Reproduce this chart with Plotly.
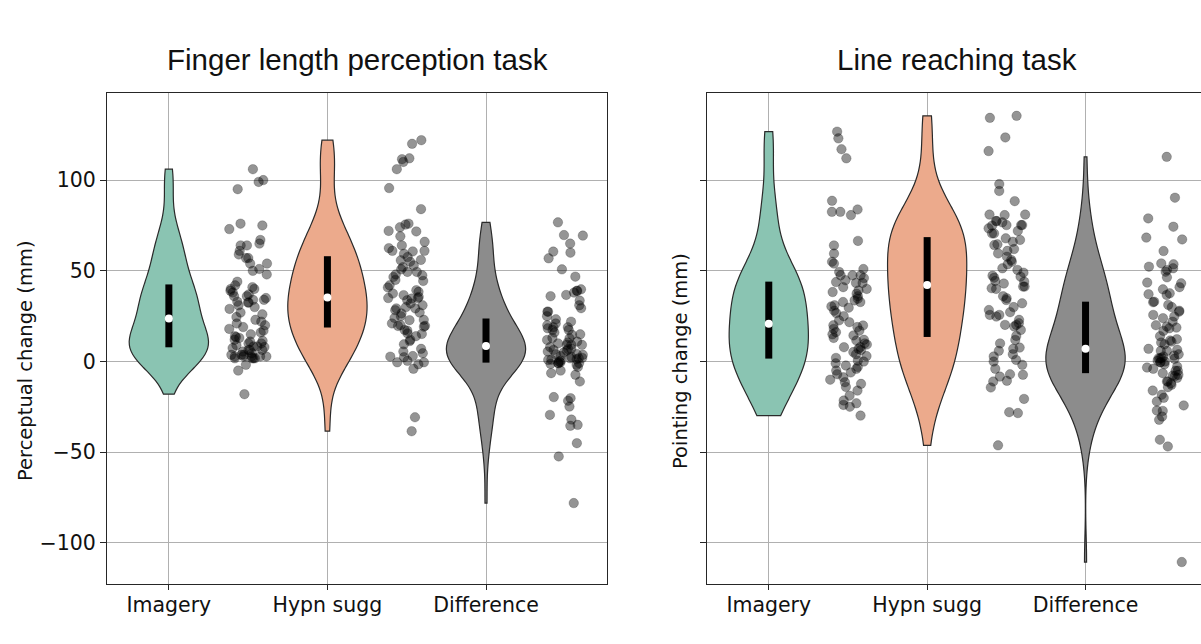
import numpy as np
import plotly.graph_objects as go

categories = ["Imagery", "Hypn sugg", "Difference"]
titles = ["Finger length perception task", "Line reaching task"]
ylabels = ["Perceptual change (mm)", "Pointing change (mm)"]
ytick_vals = [100, 50, 0, -50, -100]
ytick_text = ["100", "50", "0", "\u221250", "\u2212100"]

# ---- Finger length perception task ----
finger_imagery = [106, 100, 99, 95, 76, 75, 73, 67, 65, 64, 64, 61, 59, 57, 57, 54, 54, 51, 50, 48,
                  44, 42, 41, 40, 39, 37, 36, 34, 34, 32.5, 32.5, 31, 29, 24.5, 23, 21, 19, 18, 16, 14,
                  13, 11.4, 10, 10, 8.3, 8.3, 7.4, 6.4, 6.4, 6.4, 5.5, 4.6, 3.7, 3.7, 3.7, 2.8, 2.8, 2.8,
                  2.8, 2.8, 1.8, 1.8, 1.8, 1.8, -1.8, -5, -18,
                  38, 35, 33, 30, 27, 26, 40, 36, 22, 20, 17, 15, 12, 9, 8, 11, 13.5]
finger_hypn = [122, 120, 112, 111.5, 110, 106, 95.6, 84, 75.5, 76, 74, 71.7, 72, 64, 62.5, 61, 61, 60.7,
               59.4, 57.6, 56, 55.8, 55, 53, 50.8, 49.4, 49.4, 47.5, 46.6, 44.4, 40.8, 39.3, 38.4, 37.5,
               36.6, 35.6, 35, 34.7, 35, 33.8, 29.3, 29.3, 28.3, 26.5, 24, 25, 23, 22.8, 20, 19.6, 19.2,
               17.4, 19.7, 17, 15.5, 15.2, 14, 11.3, 9.5, 7, 5.5, 4.6, 2.7, 2.4, 0.4, -0.4, -0.4, -1.5,
               -4, -30.7, -38.4,
               66, 69, 52, 45, 42, 48, 31, 27, 21, 32, 30, 12, 3]
finger_diff = [76.7, 69.4, 69.7, 65, 60, 60.6, 56.9, 50.8, 46.8, 38.9, 38, 36, 39.8, 39, 33.6, 36.7, 29.4,
               27.5, 27.5, 25, 23.3, 21, 18.9, 18.9, 18.3, 17.4, 17.4, 14.7, 11.9, 10, 9.2, 9.2, 11, 9.2,
               12.8, 6.4, 6.8, 5.5, 4.2, 3.7, 1.8, 0.9, 0, -0.9, -1.3, 1.8, 1.3, -0.9, -0.9, -1.8, -6.4,
               -7.3, -11, -19.6, -21.6, -20.2, -24.8, -29.4, -32, -35.4, -34.9, -45, -52.3, -78,
               31, 15, 13, 20, 22, 16, 10.5, 2, 3, 4, 5, 7, 8, 0.5, 1, 2.5, -3, -5, -0.5, 6]

# ---- Line reaching task ----
reach_imagery = [126.7, 123, 117, 112, 88.6, 83.8, 80.7, 82.5, 82.5, 66.5, 64, 59.5, 54, 55, 51, 49.4,
                 47.5, 47.5, 47.5, 43.8, 44.8, 43.3, 41, 43.3, 38.3, 37.4, 39.2, 32.8, 33.7, 32.8, 30.4,
                 29.7, 34.6, 26.7, 22.7, 21.7, 19, 19.9, 18, 16.2, 17, 14.4, 11.6, 9.4, 10, 6.4, 7, 7.9,
                 5.2, 2, 0.5, -3, -4, -2.2, -8.7, -11.4, -10, -12.3, -18.8, -21.5, -24.9, -23, -23.9, -29.8,
                 46, 25, 28, 36, 40, 31, 4, 8, 12, 13, 15, 3, 20, -1, -6, -14, -16, -5, 0, -7]
reach_hypn = [135.4, 134.3, 123.5, 116, 97.8, 94, 88.4, 80.7, 81, 81, 75.2, 75.2, 77.4, 76.7, 77.4, 74.9,
              73.4, 75.2, 70.6, 70.6, 67, 67.9, 64.2, 66, 64.6, 61, 59.6, 57.8, 56, 53.6, 51.4, 50.5,
              46.8, 46.2, 47.3, 40.4, 41.3, 41.3, 40, 44, 44.4, 34.9, 33.9, 32.1, 28.4, 25.7, 27.2, 25.7,
              24.8, 20.2, 17.4, 14.1, 21.1, 20.2, 19.3, 7.7, 7, 11.9, 5.9, 2.8, 0.9, 0, -1.8, -7, -8.3,
              -7.3, -11, -10.6, -14.3, -20.6, -27.9, -28.4, -46.2,
              72, 62, 55, 49, 43, 36, 30, 23, 10, 4, -4]
reach_diff = [112.8, 90.3, 78.9, 74.3, 68.3, 67.3, 60.9, 54.1, 51.4, 49.5, 53.6, 52.3, 50.5, 46.4, 43.1,
              43.5, 39.8, 37.6, 36.7, 37.1, 31.2, 33, 32.7, 27.5, 25.7, 23.9, 24.8, 22, 19.3, 18.7, 16.9,
              18.3, 12.3, 11, 11.6, 10.5, 5.9, 5.9, 3.3, 1.8, 2.8, 1.5, 0, 1.8, -2.8, -0.4, -5.1, -5.1,
              -6.4, -7.7, -3.3, -0.4, -7.3, -11, -11, -11.9, -12.8, -14.1, -18.3, -16, -22, -27, -30.3,
              -24.2, -32.1, -27.2, -43.1, -46.8, -110.5,
              41, 14, 20, 28, 9.5, 30, 7, 4, 0.5, -1.5, -4, 2, 6.5, -9, -20, -8]

panels = [[finger_imagery, finger_hypn, finger_diff], [reach_imagery, reach_hypn, reach_diff]]

fill_colors = ["#8AC4B2", "#ECAA8C", "#8C8C8C"]
edge_color = "#2a2a2a"
axis_color = "#262626"
grid_color = "#b0b0b0"

W, H = 1201, 644
px = lambda v: v / W
py = lambda v: 1 - v / H

x_domains = [[px(107), px(607)], [px(707), 1.0]]
y_domain = [py(584), py(93)]
x_ranges = [[-0.39, 2.763], [-0.39, 2.729]]
y_range = [-122.6, 148.0]

rng = np.random.default_rng(7)

fig = go.Figure()

for p, groups in enumerate(panels):
    xa = "x" if p == 0 else "x2"
    ya = "y" if p == 0 else "y2"
    for i, data in enumerate(groups):
        arr = np.asarray(data, dtype=float)
        bw = arr.std(ddof=1) * len(arr) ** (-0.2)
        fig.add_trace(go.Violin(
            y=arr, x0=i, width=0.5, spanmode="hard", bandwidth=bw,
            points=False, fillcolor=fill_colors[i], opacity=1,
            line=dict(color=edge_color, width=1.2), scalemode="width",
            hoverinfo="skip", showlegend=False, xaxis=xa, yaxis=ya,
        ))
        q1, med, q3 = np.percentile(arr, [25, 50, 75])
        fig.add_trace(go.Scatter(
            x=[i, i], y=[q1, q3], mode="lines", line=dict(color="black", width=7),
            hoverinfo="skip", showlegend=False, xaxis=xa, yaxis=ya,
        ))
        fig.add_trace(go.Scatter(
            x=[i], y=[med], mode="markers",
            marker=dict(color="white", size=8, line=dict(width=0)),
            hoverinfo="skip", showlegend=False, xaxis=xa, yaxis=ya,
        ))
        jitter = rng.uniform(-0.12, 0.12, len(arr))
        fig.add_trace(go.Scatter(
            x=i + 0.5 + jitter, y=arr, mode="markers",
            marker=dict(color="rgba(0,0,0,0.42)", size=9.5,
                        line=dict(color="rgba(0,0,0,0.25)", width=0.8)),
            hoverinfo="skip", showlegend=False, xaxis=xa, yaxis=ya,
        ))

tick_font = dict(family="DejaVu Sans", size=20.5, color="#111111")

for p in range(2):
    xkey = "xaxis" if p == 0 else "xaxis2"
    ykey = "yaxis" if p == 0 else "yaxis2"
    fig.layout[xkey] = dict(
        domain=x_domains[p], range=x_ranges[p], anchor="y" if p == 0 else "y2",
        tickmode="array", tickvals=[0, 1, 2], ticktext=categories,
        ticks="outside", ticklen=5, tickcolor=axis_color, tickwidth=1,
        ticklabelstandoff=-3,
        showgrid=True, gridcolor=grid_color, gridwidth=1, zeroline=False,
        showline=True, linecolor=axis_color, linewidth=1.2, mirror=True,
        tickfont=tick_font, automargin=False, fixedrange=True,
    )
    fig.layout[ykey] = dict(
        domain=y_domain, range=y_range, anchor="x" if p == 0 else "x2",
        tickmode="array", tickvals=ytick_vals, ticktext=ytick_text,
        showticklabels=(p == 0),
        ticks="outside", ticklen=6, tickcolor=axis_color, tickwidth=1,
        showgrid=True, gridcolor=grid_color, gridwidth=1, zeroline=False,
        showline=True, linecolor=axis_color, linewidth=1.2, mirror=(p == 0),
        tickfont=tick_font, automargin=False, fixedrange=True,
    )

annotations = []
title_x = [px(357), px(957)]
for p in range(2):
    annotations.append(dict(
        text=titles[p], x=title_x[p], y=py(60), xref="paper", yref="paper",
        xanchor="center", yanchor="middle", showarrow=False,
        font=dict(family="Liberation Sans, Arial", size=29.5, color="#111111"),
    ))
ylabel_x = [px(25), px(680)]
for p in range(2):
    annotations.append(dict(
        text=ylabels[p], x=ylabel_x[p], y=py(361), xref="paper", yref="paper",
        xanchor="center", yanchor="middle", showarrow=False, textangle=-90,
        font=dict(family="DejaVu Sans", size=19.5, color="#111111"),
    ))

fig.update_layout(
    width=W, height=H, margin=dict(l=0, r=0, t=0, b=0),
    paper_bgcolor="white", plot_bgcolor="white",
    violinmode="overlay", annotations=annotations, showlegend=False,
)

fig.write_html(
    "out.html",
    config={"displayModeBar": False},
    post_script="document.body.style.margin='0';document.body.style.overflow='hidden';",
)
